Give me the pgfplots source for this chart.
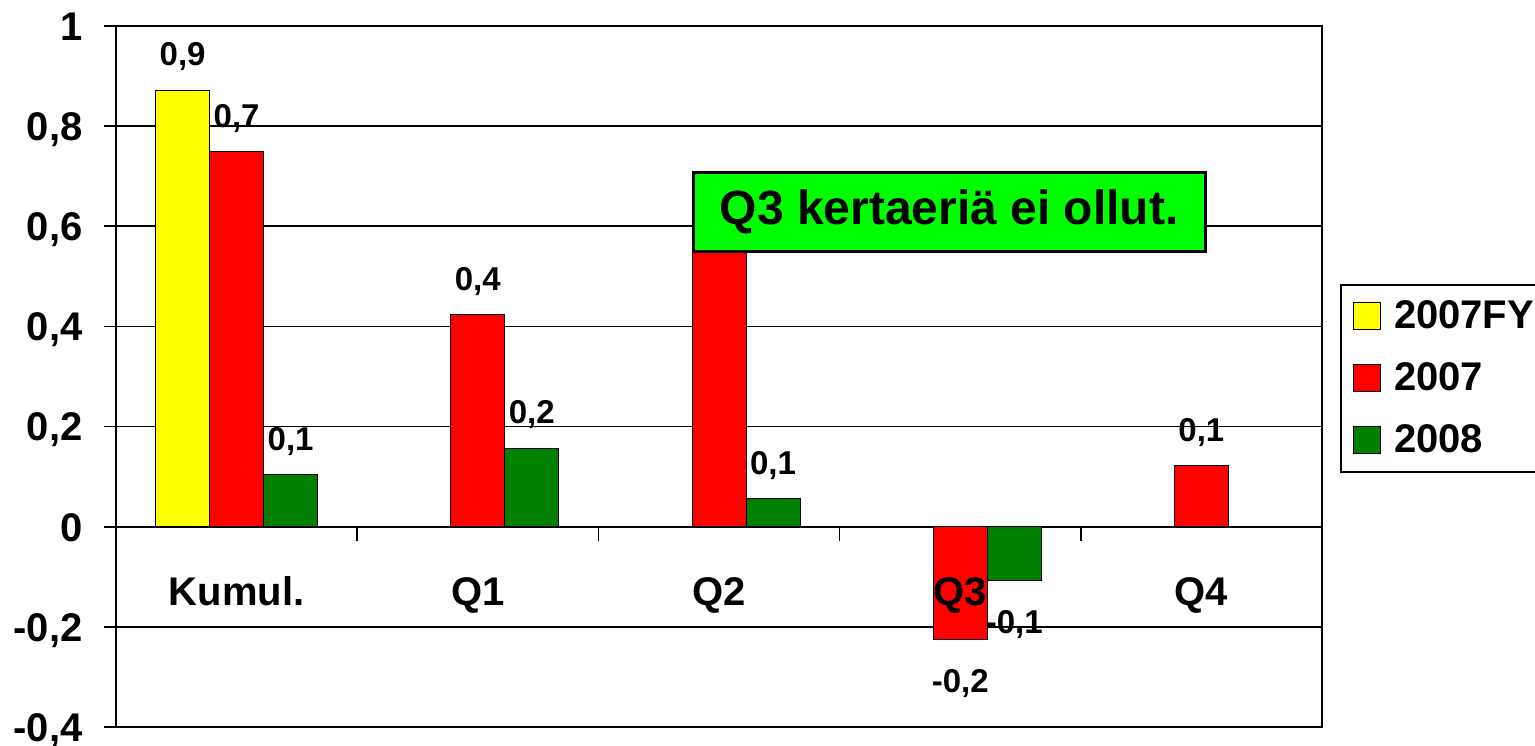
\documentclass[border=0pt]{standalone}
\usepackage{fontspec}
\setmainfont{Liberation Sans}
\usepackage{pgfplots}
\pgfplotsset{compat=1.18}
\definecolor{barY}{HTML}{FFFF00}
\definecolor{barR}{HTML}{FF0000}
\definecolor{barG}{HTML}{008000}
\definecolor{boxG}{HTML}{00FF00}
\newcommand\fs[1]{\fontsize{#1}{#1}\selectfont\bfseries}
\pgfplotsset{
  sq legend/.style={legend image code/.code={%
    \draw[##1, draw=black, line width=0.5pt] (0pt,-6.75pt) rectangle (13.5pt,6.75pt);}},
  % like the standard set, but tick labels above the bars (Q3 label sits on the red bar)
  layers/labelsontop/.define layer set={axis background,axis grid,axis ticks,axis lines,
    pre main,main,axis tick labels,axis descriptions,axis foreground}{
    grid style={/pgfplots/on layer=axis grid},
    tick style={/pgfplots/on layer=axis ticks},
    axis line style={/pgfplots/on layer=axis lines},
    label style={/pgfplots/on layer=axis descriptions},
    legend style={/pgfplots/on layer=axis descriptions},
    ticklabel style={/pgfplots/on layer=axis tick labels},
  },
}

\begin{document}
\begin{tikzpicture}
\begin{axis}[
  set layers=labelsontop,
  scale only axis, width=603pt, height=350.5pt,
  xmin=-0.5, xmax=4.5, ymin=-0.4, ymax=1,
  xtick={0,1,2,3,4}, xticklabels={Kumul.,Q1,Q2,Q3,Q4},
  ytick={-0.4,-0.2,0,0.2,0.4,0.6,0.8,1},
  ytick pos=left,
  /pgf/number format/assume math mode=true,
  tick label style={font=\fs{20}},
  xticklabel style={anchor=base, yshift=67pt},
  yticklabel style={anchor=base east, yshift=-7.15pt, inner xsep=0pt, xshift=-10.5pt,
    /pgf/number format/fixed, /pgf/number format/precision=1, /pgf/number format/use comma},
  xtick style={draw=none},
  ytick style={draw=black, line width=0.8pt},
  tick align=outside, major tick length=6pt,
  axis line style={draw=black, line width=1pt},
  ymajorgrids, grid style={draw=black, line width=0.8pt},
  visualization depends on={y \as \rawy},
  nodes near coords={\pgfmathprintnumber[fixed, precision=1, use comma]{\pgfplotspointmeta}},
  nodes near coords align={vertical},
  every node near coord/.append style={font=\fs{16.5}, inner xsep=0pt, inner ysep=9.5pt, black,
    yshift={\rawy<0 ? -5 : 0}},
  legend style={at={(rel axis cs:1,0.632)}, anchor=north west, xshift=9pt,
    draw=black, line width=1pt, font=\fs{20}, inner xsep=6pt, inner ysep=6pt, row sep=11.5pt,
    legend cell align=left, /tikz/every odd column/.append style={column sep=4.5pt}},
  clip=false,
]
\addplot[ybar, bar width=27pt, bar shift=-27pt, fill=barY, draw=black, line width=0.5pt, sq legend,
  every node near coord/.append style={xshift=-27pt}]
  coordinates {(0,0.871)};
\addlegendentry{2007FY}
\addplot[ybar, bar width=27pt, bar shift=0pt, fill=barR, draw=black, line width=0.5pt, sq legend]
  coordinates {(0,0.749) (1,0.423) (2,0.6) (3,-0.226) (4,0.122)};
\addlegendentry{2007}
\addplot[ybar, bar width=27pt, bar shift=27pt, fill=barG, draw=black, line width=0.5pt, sq legend,
  every node near coord/.append style={xshift=27pt}]
  coordinates {(0,0.104) (1,0.156) (2,0.056) (3,-0.108)};
\addlegendentry{2008}
\foreach \b in {0.5,1.5,2.5,3.5} {
  \edef\tmp{\noexpand\draw[black, line width=0.8pt] (axis cs:\b,0) -- ([yshift=-7pt]axis cs:\b,0);}
  \tmp
}
\coordinate (boxc) at (axis cs:2.954,0.628);
\coordinate (ll) at (rel axis cs:0,0);
\end{axis}
\node[fill=boxG, draw=black, line width=1.5pt, minimum width=256pt, minimum height=39.5pt,
  inner sep=0pt, font=\fs{24}] at (boxc) {Q3 kertaeriä ei ollut.};
\pgfresetboundingbox
\useasboundingbox ([shift={(-58pt,-9pt)}]ll) rectangle ([shift={(709.5pt,363.5pt)}]ll);
\end{tikzpicture}
\end{document}
